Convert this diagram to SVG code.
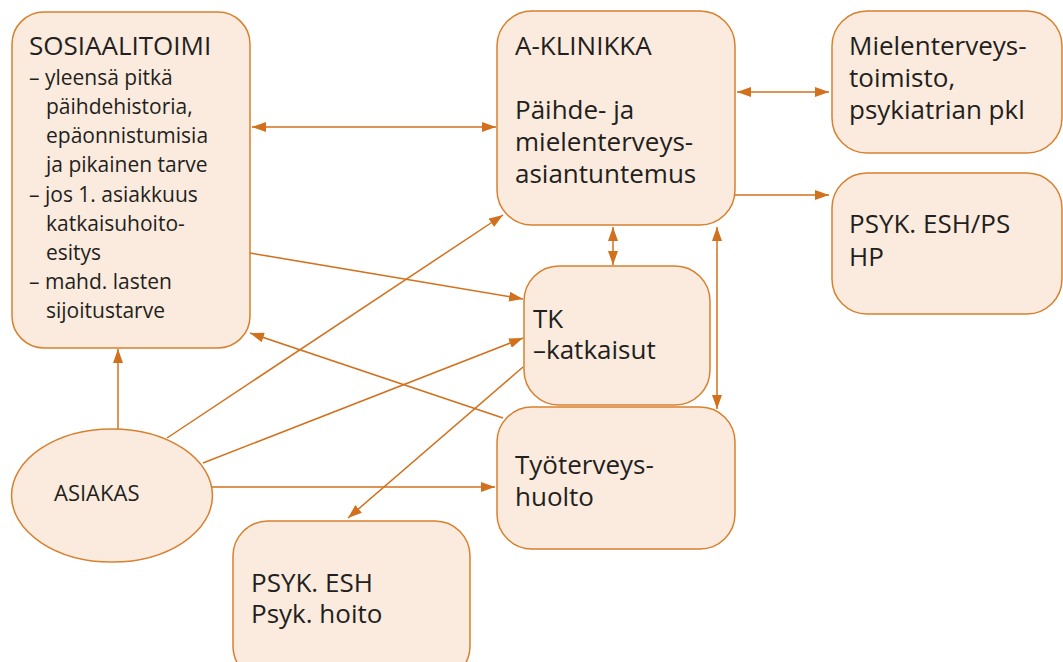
<svg xmlns="http://www.w3.org/2000/svg" width="1063" height="662" viewBox="0 0 1063 662">
<style>
.box{fill:#FBEBDE;stroke:#D8802F;stroke-width:1.5}
.t{font-family:"Open Sans","Liberation Sans",sans-serif;fill:#231F20;font-size:26px}
.s{font-size:21px}
.c{fill:none;stroke:#D2711D;stroke-width:1.5}
</style>
<defs>
<marker id="ah" viewBox="0 0 14 10" refX="14" refY="5" markerWidth="14" markerHeight="10" markerUnits="userSpaceOnUse" orient="auto-start-reverse">
<path d="M0,0 L14,5 L0,10 z" fill="#D2711D"/>
</marker>
</defs>
<rect width="1063" height="662" fill="#fff"/>
<g id="connectors">
<line class="c" x1="252" y1="127" x2="496" y2="127" marker-start="url(#ah)" marker-end="url(#ah)"/>
<line class="c" x1="737" y1="92" x2="829" y2="92" marker-start="url(#ah)" marker-end="url(#ah)"/>
<line class="c" x1="735" y1="195" x2="829" y2="195" marker-end="url(#ah)"/>
<line class="c" x1="613" y1="227" x2="613" y2="265" marker-start="url(#ah)" marker-end="url(#ah)"/>
<line class="c" x1="717" y1="227" x2="717" y2="409" marker-start="url(#ah)" marker-end="url(#ah)"/>
<line class="c" x1="250" y1="253" x2="523" y2="299" marker-end="url(#ah)"/>
<line class="c" x1="503" y1="418" x2="250" y2="333" marker-end="url(#ah)"/>
<line class="c" x1="118" y1="429" x2="118" y2="349" marker-end="url(#ah)"/>
<line class="c" x1="167" y1="438" x2="503" y2="215" marker-end="url(#ah)"/>
<line class="c" x1="203" y1="463" x2="523" y2="338" marker-end="url(#ah)"/>
<line class="c" x1="212" y1="487" x2="495" y2="487" marker-end="url(#ah)"/>
<line class="c" x1="523" y1="367" x2="348" y2="518" marker-end="url(#ah)"/>
</g>
<g id="sosiaalitoimi">
<rect class="box" x="12" y="12" width="238" height="336" rx="32"/>
<text class="t" x="29" y="55">SOSIAALITOIMI</text>
<text class="t s" x="29" y="85">– yleensä pitkä</text>
<text class="t s" x="46" y="114">päihdehistoria,</text>
<text class="t s" x="46" y="143">epäonnistumisia</text>
<text class="t s" x="46" y="172">ja pikainen tarve</text>
<text class="t s" x="29" y="202">– jos 1. asiakkuus</text>
<text class="t s" x="46" y="231">katkaisuhoito-</text>
<text class="t s" x="46" y="260">esitys</text>
<text class="t s" x="29" y="289">– mahd. lasten</text>
<text class="t s" x="46" y="318">sijoitustarve</text>
</g>
<g id="aklinikka">
<rect class="box" x="497" y="11" width="238" height="214" rx="35"/>
<text class="t" x="515" y="55">A-KLINIKKA</text>
<text class="t" x="515" y="119">Päihde- ja</text>
<text class="t" x="515" y="151">mielenterveys-</text>
<text class="t" x="515" y="183">asiantuntemus</text>
</g>
<g id="mielenterveystoimisto">
<rect class="box" x="832" y="11" width="230" height="142" rx="35"/>
<text class="t" x="849" y="55">Mielenterveys-</text>
<text class="t" x="849" y="87">toimisto,</text>
<text class="t" x="849" y="119">psykiatrian pkl</text>
</g>
<g id="psykeshps">
<rect class="box" x="832" y="173" width="230" height="141" rx="35"/>
<text class="t" x="849" y="233">PSYK. ESH/PS</text>
<text class="t" x="849" y="266">HP</text>
</g>
<g id="tk">
<rect class="box" x="524" y="266" width="186" height="139" rx="35"/>
<text class="t" x="533" y="328">TK</text>
<text class="t" x="533" y="359">–katkaisut</text>
</g>
<g id="tyoterveyshuolto">
<rect class="box" x="497" y="407" width="238" height="142" rx="35"/>
<text class="t" x="515" y="474">Työterveys-</text>
<text class="t" x="515" y="506">huolto</text>
</g>
<g id="asiakas">
<ellipse class="box" cx="112" cy="495.5" rx="100.5" ry="66.5"/>
<text class="t" x="54" y="501" style="font-size:22px">ASIAKAS</text>
</g>
<g id="psykesh">
<rect class="box" x="233" y="521" width="237" height="160" rx="35"/>
<text class="t" x="251" y="592">PSYK. ESH</text>
<text class="t" x="251" y="623">Psyk. hoito</text>
</g>
</svg>
